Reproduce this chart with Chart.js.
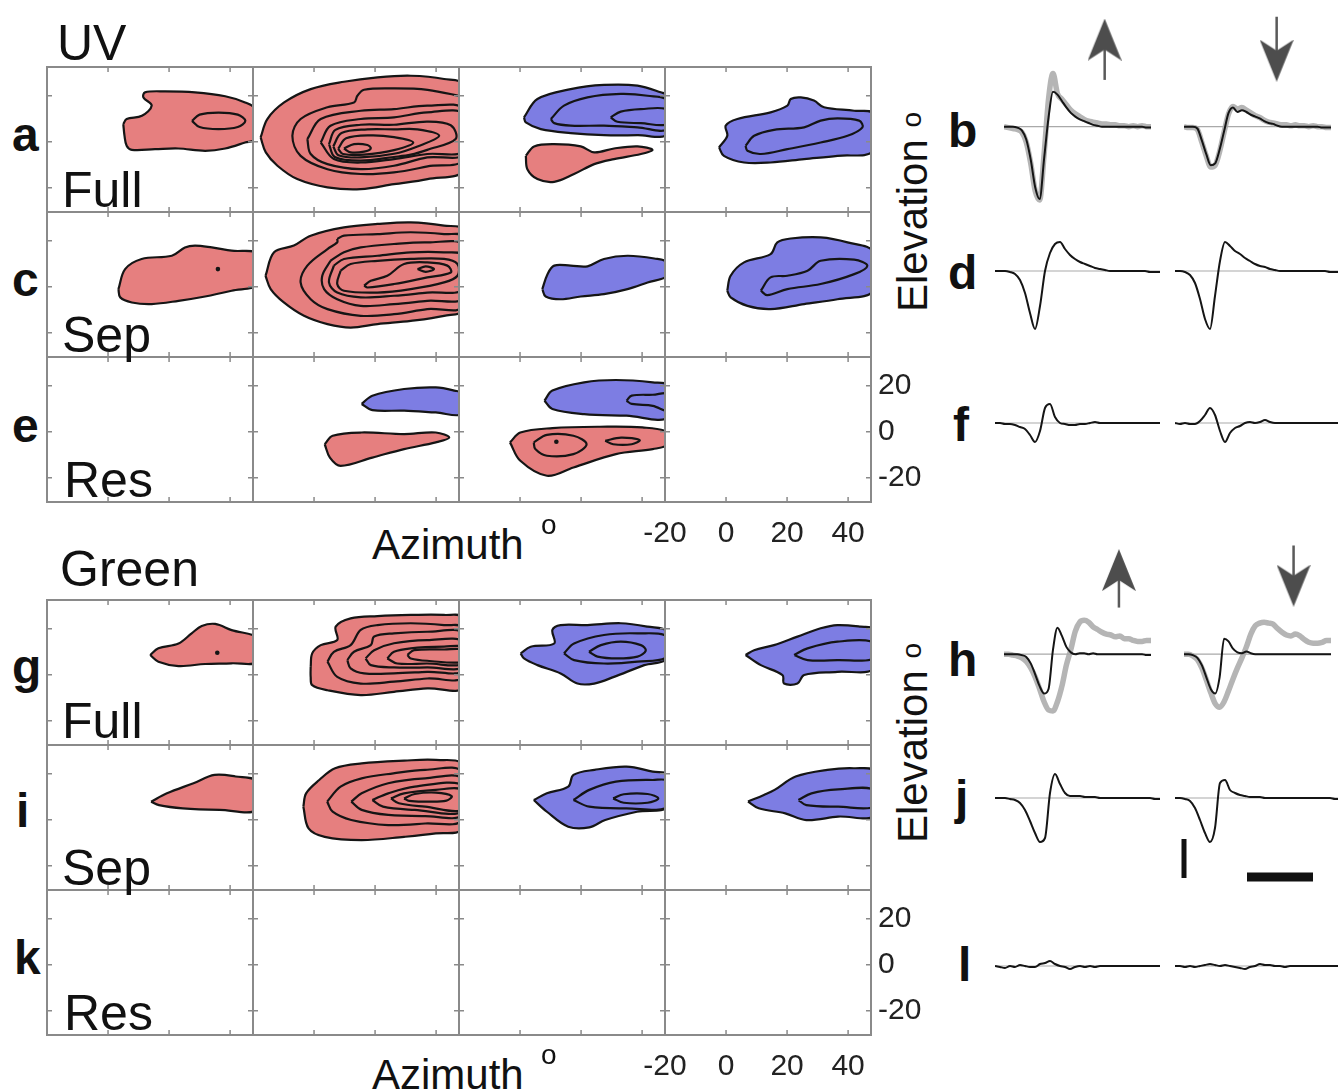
<!DOCTYPE html>
<html>
<head>
<meta charset="utf-8">
<title>UV / Green receptive fields</title>
<script src="https://cdn.jsdelivr.net/npm/chart.js@4.4.1/dist/chart.umd.min.js"></script>
<style>
  html, body { margin: 0; padding: 0; background: #fff; }
  body { position: relative; width: 1338px; height: 1092px; overflow: hidden;
         font-family: "Liberation Sans", Arial, Helvetica, sans-serif; color: #111; }
  canvas { position: absolute; }
  .t { position: absolute; line-height: 1; white-space: nowrap; }
  .big { font-size: 50px; }
  .letter { font-size: 48px; font-weight: bold; }
  .axis { font-size: 42px; }
  .deg { font-size: 28px; }
  .rot { transform: rotate(-90deg); transform-origin: 0 0; }
</style>
</head>
<body>
<script>
// ---- colours / fonts
const RED = '#e67f7f';
const BLUE = '#7d7de3';
const INK = '#151515';
const FRAME = '#8a8a8a';
const FONT = '"Liberation Sans", Arial, Helvetica, sans-serif';

// ---- axes of the receptive field maps (degrees)
const azimuthRange = [-20, 47.5];
const elevationRange = [-30.5, 32.5];
const azimuthTicks = [-20, 0, 20, 40];
const elevationTicks = [-20, 0, 20];

// ---- contour lines, [azimuth, elevation] pairs
// UV Full (a)
const a1Outer = [[5.0,7.7],[6.1,9.9],[11.1,11.3],[14.3,15.7],[11.6,19.3],[12.1,21.5],[18.7,21.9],[28.5,21.5],[38.4,19.8],[44.9,17.1],[48.2,14.2],[48.2,1.2],[44.9,-0.3],[38.4,-2.9],[31.8,-3.9],[23.0,-2.9],[15.4,-3.2],[7.8,-3.5],[6.1,-1.7],[5.4,2.6]];
const a1Inner = [[27.5,9.1],[30.0,11.8],[36.2,12.7],[42.5,11.8],[45.0,9.1],[42.5,6.4],[36.2,5.5],[30.0,6.4]];
const a2Outer = [[-17.5,1.9],[-15.3,9.9],[-9.8,17.1],[-1.1,22.9],[9.8,26.1],[20.8,28.0],[31.7,28.7],[42.6,27.3],[49.2,24.4],[49.2,-11.9],[37.2,-16.2],[26.2,-18.4],[15.3,-20.6],[4.4,-19.8],[-5.5,-16.2],[-12.0,-10.4],[-15.8,-4.6]];
const a2C2 = [[49.2,19.5],[37.2,22.6],[26.2,23.2],[16.4,22.6],[14.2,20.0],[13.1,17.1],[4.4,15.0],[-4.4,9.9],[-7.1,2.6],[-4.4,-6.1],[4.4,-11.9],[15.3,-14.0],[26.2,-13.3],[37.2,-10.7],[49.2,-7.5]];
const a2C3 = [[-2.2,1.2],[2.2,9.9],[15.3,13.5],[26.2,14.2],[37.1,15.7],[49.2,14.2],[49.2,-5.3],[37.1,-6.8],[26.2,-10.4],[15.3,-11.9],[4.4,-9.7],[-1.1,-5.3]];
const a2C4 = [[2.2,-0.3],[5.4,7.0],[15.3,9.9],[26.2,10.6],[37.1,12.8],[49.2,12.1],[49.2,-3.9],[37.1,-5.3],[26.2,-7.5],[15.3,-9.0],[6.5,-7.5]];
const a2C5 = [[4.9,-1.0],[7.0,5.2],[15.3,7.4],[26.2,7.4],[37.1,8.8],[44.8,7.2],[46.4,1.2],[37.1,-3.5],[31.7,-5.6],[26.2,-6.6],[15.3,-8.2],[6.8,-6.6]];
const a2C6 = [[6.3,-2.0],[9.0,3.8],[17.5,5.4],[26.2,5.4],[33.9,5.4],[41.0,2.6],[33.9,-2.0],[26.2,-5.2],[15.3,-6.8],[8.0,-5.8]];
const a2C7 = [[7.9,-3.0],[10.5,1.5],[18.6,2.8],[26.2,2.0],[32.5,-0.3],[26.2,-3.6],[16.4,-5.6],[9.5,-5.3]];
const a2C8 = [[9.8,-2.9],[13.1,-1.0],[17.5,-1.4],[18.6,-2.9],[16.4,-4.3],[12.0,-4.6]];
const a3Blue = [[1.3,10.6],[5.7,18.6],[16.6,22.9],[27.5,24.7],[38.5,24.4],[46.1,21.5],[48.3,20.0],[48.3,3.4],[38.5,2.9],[27.5,2.9],[16.6,3.8],[6.8,5.5],[1.9,8.4]];
const a3BlueC2 = [[10.1,9.9],[14.4,15.7],[22.1,19.3],[33.0,20.8],[41.8,20.0],[48.3,17.9],[48.3,5.5],[38.5,6.3],[27.5,7.0],[16.6,7.0],[11.2,8.1]];
const a3BlueC3 = [[29.7,10.6],[33.0,13.1],[39.6,14.2],[48.3,14.0],[48.3,7.7],[39.6,8.1],[31.9,8.7]];
const a3Red = [[1.9,-6.1],[4.6,-2.0],[11.2,-1.0],[19.9,-2.0],[24.3,-4.6],[30.8,-2.9],[38.5,-2.0],[43.4,-3.5],[39.6,-5.3],[30.8,-7.5],[24.3,-9.7],[17.7,-14.0],[11.2,-17.4],[5.7,-16.2],[2.4,-11.9]];
const a4Outer = [[-2.3,-2.4],[0.4,2.6],[-0.1,7.0],[3.7,9.9],[14.6,12.8],[20.1,15.7],[21.2,18.6],[24.5,19.3],[28.8,17.9],[32.1,15.0],[42.0,13.5],[48.5,12.1],[48.5,-3.9],[36.5,-6.1],[25.6,-7.5],[14.6,-9.0],[5.9,-9.0],[-0.7,-6.1]];
const a4Inner = [[6.4,-1.7],[9.2,2.6],[15.7,5.2],[25.6,6.3],[31.0,9.2],[36.5,10.2],[43.6,9.2],[44.7,6.3],[39.8,2.6],[31.0,-0.3],[20.1,-3.2],[11.4,-5.3],[7.0,-3.9]];
// UV Sep (c)
const c1Red = [[3.4,-1.0],[5.6,7.7],[11.0,12.1],[20.9,13.5],[25.2,17.1],[28.5,17.9],[34.0,17.1],[40.5,15.7],[49.3,14.2],[49.3,1.2],[40.5,-1.7],[31.8,-4.2],[23.1,-6.1],[14.3,-7.5],[7.8,-6.8],[4.0,-4.6]];
const c1Dot = [36.0, 7.7];
const c2Outer = [[-15.9,4.8],[-13.1,15.0],[-6.6,17.9],[-1.1,22.2],[9.8,25.8],[20.8,27.3],[31.7,28.0],[42.6,26.6],[49.2,24.4],[49.2,-9.7],[42.6,-12.6],[31.7,-14.8],[20.8,-16.2],[12.0,-17.7],[4.4,-16.2],[-3.3,-12.6],[-9.9,-6.8],[-14.2,-1.0]];
const c2C2 = [[7.6,20.8],[9.8,22.2],[20.8,22.9],[31.7,23.7],[42.6,22.9],[49.2,21.5],[49.2,-8.3],[37.1,-9.7],[26.2,-11.9],[15.3,-12.6],[4.4,-9.7],[-1.1,-5.4],[-4.4,1.9],[-2.2,9.2],[4.4,16.4],[7.6,19.3]];
const c2C3 = [[5.4,11.3],[9.8,15.0],[15.3,17.1],[26.2,18.6],[37.1,19.3],[49.2,17.9],[49.2,-4.6],[37.1,-6.1],[26.2,-7.5],[15.3,-8.3],[7.6,-5.4],[3.3,-1.0],[2.7,4.8]];
const c2C4 = [[6.5,9.2],[9.8,12.1],[20.8,13.5],[31.7,15.0],[42.6,15.0],[49.2,13.5],[49.2,-1.0],[37.1,-2.5],[26.2,-3.9],[15.3,-4.6],[7.6,-2.5],[4.9,1.9]];
const c2C5 = [[8.7,7.0],[12.0,9.9],[20.8,11.3],[31.7,12.1],[42.6,12.1],[47.0,9.9],[47.0,4.8],[42.6,1.9],[31.7,-1.0],[20.8,-2.5],[9.8,-1.7],[7.6,1.2]];
const c2C6 = [[16.4,0.5],[18.6,2.6],[24.0,4.8],[29.5,9.9],[37.1,10.6],[43.7,9.2],[44.8,6.2],[37.1,4.1],[26.2,1.2],[17.5,-0.3]];
const c2C7 = [[33.9,7.7],[36.6,8.9],[39.3,7.7],[36.6,6.5]];
const c3Blue = [[7.3,-1.0],[9.0,5.5],[11.2,9.2],[16.6,9.2],[22.1,8.9],[27.5,12.1],[35.2,13.5],[44.0,12.3],[48.3,10.6],[48.3,4.8],[41.8,1.9],[35.2,-1.0],[27.5,-3.2],[19.9,-4.2],[13.3,-5.4],[8.4,-4.2]];
const c4Outer = [[0.4,-1.7],[1.5,4.8],[5.9,10.6],[14.6,14.2],[16.8,19.3],[21.2,21.0],[31.0,21.5],[39.8,19.3],[48.5,15.0],[48.5,-1.7],[36.5,-5.4],[25.6,-7.5],[14.6,-9.7],[7.0,-8.3],[1.5,-4.6]];
const c4Inner = [[11.4,-1.7],[14.6,4.1],[20.1,4.8],[26.7,7.0],[31.0,11.3],[42.0,11.8],[46.3,9.2],[42.0,5.5],[31.0,1.2],[20.1,-1.0],[13.5,-3.6]];
// UV Res (e)
const e2Blue = [[15.6,12.1],[19.1,15.7],[29.5,18.6],[39.9,19.3],[46.0,17.9],[48.6,16.5],[48.6,7.7],[39.9,8.4],[29.5,9.2],[19.1,9.4]];
const e2Red = [[3.5,-5.4],[6.1,-1.7],[15.6,-0.3],[29.5,-1.0],[39.9,-0.3],[44.3,-2.5],[39.9,-4.6],[29.5,-7.5],[19.1,-11.2],[8.7,-14.8],[5.2,-11.2]];
const e3BlueOuter = [[8.0,13.5],[10.6,17.9],[21.0,21.5],[31.4,22.5],[43.5,21.5],[48.7,20.0],[48.7,6.2],[34.9,7.0],[21.0,7.7],[10.6,9.9]];
const e3BlueInner = [[34.9,13.5],[36.6,15.7],[43.5,16.1],[48.7,16.4],[48.7,9.2],[43.5,11.3],[36.6,12.1]];
const e3Red = [[-3.3,-4.6],[0.1,-0.3],[10.6,1.6],[26.2,2.2],[40.1,1.9],[48.7,-0.3],[48.7,-5.4],[43.5,-7.5],[31.4,-9.7],[17.5,-15.5],[8.8,-19.1],[0.1,-12.6]];
const e3RedIn1 = [[4.5,-4.6],[8.8,-1.3],[17.5,-1.7],[21.8,-5.4],[17.5,-9.7],[8.8,-10.4],[5.0,-7.5]];
const e3RedIn2 = [[27.9,-3.9],[33.1,-2.5],[39.2,-3.6],[36.6,-5.4],[30.5,-5.4]];
const e3Dot = [11.9, -4.3];
// Green Full (g)
const g1Red = [[13.8,8.6],[16.5,11.5],[23.1,13.6],[27.4,18.0],[30.7,21.2],[35.1,22.1],[40.5,19.4],[49.3,15.8],[49.3,5.7],[40.5,5.0],[31.8,4.7],[23.1,3.8],[16.5,5.7]];
const g1Dot = [35.8, 9.6];
const g2Outer = [[-1.1,3.5],[-0.6,9.3],[2.2,12.9],[7.6,15.1],[7.1,20.9],[12.0,24.5],[20.8,25.5],[31.7,26.0],[42.6,26.0],[49.2,24.5],[49.2,-5.2],[37.1,-5.9],[26.2,-7.4],[15.3,-8.8],[4.4,-6.7],[-0.6,-4.5],[-1.1,-0.9]];
const g2C2 = [[4.4,5.7],[6.5,10.0],[12.0,12.9],[15.3,19.5],[20.8,21.6],[31.7,22.4],[42.6,21.6],[49.2,20.2],[49.2,-0.9],[37.1,-1.6],[26.2,-3.0],[15.3,-3.8],[7.6,-0.9]];
const g2C3 = [[10.9,6.4],[13.1,10.0],[18.6,12.9],[19.7,16.6],[26.2,18.0],[37.1,18.7],[49.2,18.0],[49.2,2.0],[37.1,1.3],[26.2,0.6],[16.4,0.6],[12.0,2.8]];
const g2C4 = [[16.9,7.1],[19.7,10.7],[26.2,13.7],[37.1,15.1],[49.2,14.4],[49.2,3.5],[37.1,3.2],[26.2,3.2],[18.6,4.2]];
const g2C5 = [[24.0,7.1],[26.2,10.0],[31.7,11.5],[42.6,12.2],[49.2,11.9],[49.2,4.7],[37.1,4.9],[27.3,4.9]];
const g2C6 = [[30.6,8.6],[32.8,10.7],[42.6,11.0],[49.2,10.7],[49.2,5.7],[37.1,6.1],[31.7,7.1]];
const g3Outer = [[0.2,9.3],[3.5,12.2],[11.2,13.6],[10.6,19.5],[13.3,21.6],[22.1,21.6],[33.0,22.4],[41.8,20.9],[48.3,18.7],[48.3,7.1],[40.7,4.2],[30.8,-0.9],[24.3,-3.8],[18.8,-3.8],[13.3,0.6],[5.7,4.2],[1.3,7.1]];
const g3C2 = [[14.4,9.3],[17.7,13.6],[27.5,17.3],[38.5,18.0],[48.3,16.6],[48.3,7.9],[38.5,5.7],[27.5,4.9],[17.7,6.4]];
const g3C3 = [[22.6,10.0],[26.5,12.9],[33.0,14.4],[39.6,12.9],[41.2,10.5],[38.5,7.9],[31.9,7.1],[25.4,7.9]];
const g4Outer = [[6.4,8.6],[9.2,10.7],[15.7,12.9],[23.4,16.6],[31.0,20.2],[36.5,21.6],[44.1,20.9],[48.5,19.7],[48.5,2.8],[36.5,1.3],[25.6,-0.1],[23.4,-3.8],[19.0,-3.8],[18.5,-0.1],[11.4,4.2]];
const g4Inner = [[22.3,8.6],[26.7,11.5],[36.5,14.4],[48.5,14.0],[48.5,7.1],[36.5,6.4],[26.7,6.4]];
// Green Sep (i)
const i1Red = [[14.1,7.9],[19.3,11.5],[28.0,15.9],[34.9,19.5],[41.8,18.8],[48.8,16.6],[48.8,4.3],[36.6,4.3],[24.5,5.0],[16.7,6.4]];
const i2Outer = [[-3.5,5.7],[-2.6,11.5],[1.7,17.3],[6.9,22.4],[15.6,24.5],[29.5,25.7],[39.9,26.0],[48.6,23.8],[48.6,-3.7],[39.9,-5.9],[29.5,-7.4],[15.6,-8.8],[3.5,-7.4],[-1.8,-3.7]];
const i2C2 = [[4.3,7.9],[8.7,14.4],[15.6,18.0],[26.0,20.2],[36.4,21.7],[48.6,20.9],[48.6,-0.1],[36.4,-1.6],[24.3,-2.3],[12.2,-0.1],[6.1,3.5]];
const i2C3 = [[12.2,7.9],[15.6,11.5],[24.3,15.9],[36.4,18.0],[48.6,18.0],[48.6,2.1],[36.4,1.6],[24.3,2.1],[15.6,4.3]];
const i2C4 = [[19.1,8.6],[24.3,11.5],[33.0,14.4],[48.6,15.1],[48.6,3.5],[33.0,4.3],[22.6,5.7]];
const i2C5 = [[25.2,9.3],[29.5,11.5],[39.9,13.0],[48.6,13.0],[48.6,4.3],[36.4,5.7],[27.8,7.2]];
const i2C6 = [[29.5,9.3],[33.0,11.2],[39.9,11.8],[45.1,10.3],[43.4,8.3],[36.4,7.9],[31.2,8.2]];
const i3Outer = [[4.5,8.6],[8.8,11.5],[15.8,14.4],[17.5,19.5],[24.4,21.7],[34.9,23.1],[43.5,20.9],[48.7,19.5],[48.7,5.7],[38.3,3.5],[27.9,-0.1],[22.7,-3.3],[15.8,-3.0],[8.8,3.5]];
const i3C2 = [[17.5,8.6],[22.7,13.0],[31.4,16.6],[43.5,17.3],[48.7,16.6],[48.7,5.7],[34.9,5.0],[22.7,5.7]];
const i3C3 = [[30.5,9.3],[34.0,11.1],[41.8,11.2],[45.3,9.3],[41.8,7.4],[34.0,7.4]];
const i4Outer = [[7.2,7.9],[12.4,10.8],[15.9,13.0],[22.8,18.8],[33.2,21.7],[41.9,22.4],[48.9,20.9],[48.9,2.1],[36.7,1.4],[26.3,-0.1],[19.4,2.8],[10.7,5.0]];
const i4Inner = [[23.7,8.6],[28.0,11.5],[36.7,13.2],[48.9,13.0],[48.9,5.7],[36.7,5.7],[26.3,6.4]];

// ---- response traces (time samples, amplitude)
const sampleTimes = [0,5,10,15,20,25,30,35,40,45,50,55,60,65,70,75,80,85,90,95,100,105,110,115,120,125,130,135,140,145,150,155,160,165];
const bUpBlack   = [0,0,0,-1,-4,-14,-36,-66,-79,-35,10,38,35,28,21,15,11,8,6,4,2,1,0,0,0,0,0,0,0,0,0,0,-1,-1];
const bUpGrey    = [0,-1,-2,-3,-6,-17,-40,-70,-80,-30,30,58,36,30,24,18,14,11,8,6,5,4,3,3,2,2,1,1,0,1,0,1,0,0];
const bDownBlack = [0,0,0,-2,-15,-30,-42,-40,-25,-5,15,21,16,18,16,13,11,9,6,4,3,1,0,0,0,0,0,0,0,0,0,-1,-1,-1];
const bDownGrey  = [0,-1,-1,-3,-17,-32,-44,-42,-27,-6,14,22,19,21,18,15,12,10,7,5,4,3,2,2,1,2,1,1,0,1,0,0,-1,-1];
const dUp   = [0,0,0,-1,-3,-9,-22,-42,-58,-35,0,18,27,29,22,16,12,9,7,5,3,2,1,0,0,0,0,0,0,0,0,-1,-1,-1];
const dDown = [0,0,-1,-4,-12,-28,-48,-58,-25,10,29,25,20,17,13,10,7,5,4,2,1,0,0,0,0,0,0,0,0,0,0,-1,-1,-1];
const fUp   = [0,0,-1,-1,-2,-4,-6,-12,-19,-8,15,19,6,0,-1,-2,-2,-1,-1,0,1,0,0,0,0,0,0,0,0,0,0,0,0,0];
const fDown = [0,-1,0,-1,-1,2,8,15,8,-8,-19,-10,-5,-3,0,1,0,1,3,1,0,0,0,0,0,0,0,0,0,0,0,0,0,0];
const hUpBlack   = [0,0,0,0,-1,-3,-10,-22,-35,-43,-38,5,29,20,8,2,0,1,1,0,1,0,0,0,0,0,0,0,0,0,0,0,-1,-1];
const hUpGrey    = [0,0,-1,-2,-4,-8,-15,-25,-38,-52,-61,-62,-52,-35,-12,5,25,35,37,35,30,27,24,22,21,19,20,17,17,15,14,14,15,15];
const hDownBlack = [0,0,-1,-4,-12,-25,-38,-43,-25,17,14,6,2,1,3,1,0,0,0,0,0,0,0,0,0,0,0,0,0,0,0,0,0,0];
const hDownGrey  = [0,0,-2,-6,-15,-28,-42,-54,-58,-52,-40,-27,-15,-4,8,22,31,34,35,34,33,28,24,21,20,22,20,16,13,12,12,13,15,15];
const jUp   = [0,0,0,-1,-2,-5,-12,-23,-35,-44,-40,5,24,14,5,2,2,2,1,1,1,0,0,0,0,0,0,0,0,0,0,0,-1,-1];
const jDown = [0,0,-1,-3,-10,-22,-35,-44,-30,15,18,8,5,3,2,1,1,1,0,0,0,0,0,0,0,0,0,0,0,0,0,0,-1,-1];
const lUp   = [0,-1,-2,0,-1,1,0,-1,-1,2,3,5,2,0,-1,-3,-1,0,-1,0,-1,0,0,0,0,0,0,0,0,0,0,0,0,0];
const lDown = [0,0,-1,0,-1,0,1,2,1,0,1,0,-1,-2,-3,-1,0,2,1,1,0,0,-1,0,0,0,0,0,0,0,0,0,0,0];

// stimulus direction arrows (time, tip, tail) for b-up, b-down, h-up, h-down
const stimArrowTime = [113, 104, 129, 123];
const stimArrowTip  = [116, 51, 113, 54];
const stimArrowTail = [51, 120, 51, 119];
// scale bars drawn in panel j (right)
const ampBarTime = [9, 9];
const ampBarValue = [-41, -80];
const timeBarTime = [72, 138];
const timeBarValue = [-79, -79];

// ---- layout
const colLeft = [47, 253, 459, 665];
const panelW = 206, panelH = 145;
const rowTop = { a: 67, c: 212, e: 357, g: 600, i: 745, k: 890 };

const panels = {
  a: [
    [{pts: a1Outer, fill: RED}, {pts: a1Inner}],
    [{pts: a2Outer, fill: RED}, {pts: a2C2}, {pts: a2C3}, {pts: a2C4}, {pts: a2C5}, {pts: a2C6}, {pts: a2C7}, {pts: a2C8}],
    [{pts: a3Blue, fill: BLUE}, {pts: a3BlueC2}, {pts: a3BlueC3}, {pts: a3Red, fill: RED}],
    [{pts: a4Outer, fill: BLUE}, {pts: a4Inner}]
  ],
  c: [
    [{pts: c1Red, fill: RED}, {dot: c1Dot}],
    [{pts: c2Outer, fill: RED}, {pts: c2C2}, {pts: c2C3}, {pts: c2C4}, {pts: c2C5}, {pts: c2C6}, {pts: c2C7}],
    [{pts: c3Blue, fill: BLUE}],
    [{pts: c4Outer, fill: BLUE}, {pts: c4Inner}]
  ],
  e: [
    [],
    [{pts: e2Blue, fill: BLUE}, {pts: e2Red, fill: RED}],
    [{pts: e3BlueOuter, fill: BLUE}, {pts: e3BlueInner}, {pts: e3Red, fill: RED}, {pts: e3RedIn1}, {pts: e3RedIn2}, {dot: e3Dot}],
    []
  ],
  g: [
    [{pts: g1Red, fill: RED}, {dot: g1Dot}],
    [{pts: g2Outer, fill: RED}, {pts: g2C2}, {pts: g2C3}, {pts: g2C4}, {pts: g2C5}, {pts: g2C6}],
    [{pts: g3Outer, fill: BLUE}, {pts: g3C2}, {pts: g3C3}],
    [{pts: g4Outer, fill: BLUE}, {pts: g4Inner}]
  ],
  i: [
    [{pts: i1Red, fill: RED}],
    [{pts: i2Outer, fill: RED}, {pts: i2C2}, {pts: i2C3}, {pts: i2C4}, {pts: i2C5}, {pts: i2C6}],
    [{pts: i3Outer, fill: BLUE}, {pts: i3C2}, {pts: i3C3}],
    [{pts: i4Outer, fill: BLUE}, {pts: i4Inner}]
  ],
  k: [[], [], [], []]
};

// frame with inward tick marks around every map
const framePlugin = {
  id: 'panelFrame',
  afterDatasetsDraw(chart) {
    const {ctx, chartArea: a} = chart;
    const xs = chart.scales.x, ys = chart.scales.y;
    ctx.save();
    ctx.strokeStyle = FRAME;
    ctx.lineWidth = 1.5;
    ctx.beginPath();
    azimuthTicks.forEach(v => {
      const px = xs.getPixelForValue(v);
      if (px < a.left + 3 || px > a.right - 3) return;
      ctx.moveTo(px, a.top); ctx.lineTo(px, a.top + 5);
      ctx.moveTo(px, a.bottom); ctx.lineTo(px, a.bottom - 5);
    });
    elevationTicks.forEach(v => {
      const py = ys.getPixelForValue(v);
      ctx.moveTo(a.left, py); ctx.lineTo(a.left + 5, py);
      ctx.moveTo(a.right, py); ctx.lineTo(a.right - 5, py);
    });
    ctx.stroke();
    ctx.lineWidth = 2;
    ctx.strokeRect(a.left, a.top, a.right - a.left, a.bottom - a.top);
    ctx.restore();
  }
};

function shapeDataset(shape, order) {
  if (shape.dot) {
    return {
      data: [{x: shape.dot[0], y: shape.dot[1]}],
      showLine: false, pointRadius: 2.3, pointBorderWidth: 0,
      pointBackgroundColor: INK, order: order
    };
  }
  const pts = shape.pts.concat([shape.pts[0]]).map(p => ({x: p[0], y: p[1]}));
  return {
    data: pts,
    showLine: true,
    fill: shape.fill ? 'shape' : false,
    backgroundColor: shape.fill || 'rgba(0,0,0,0)',
    borderColor: INK,
    borderWidth: 2.2,
    pointRadius: 0,
    tension: 0.35,
    order: order
  };
}

function noPadding(s) {
  s.paddingLeft = 0; s.paddingRight = 0; s.paddingTop = 0; s.paddingBottom = 0;
}

function contourPanel(left, top, shapes, withAxes) {
  const extraR = withAxes ? 60 : 0, extraB = withAxes ? 50 : 0, extraL = withAxes ? 30 : 0;
  const cv = document.createElement('canvas');
  cv.width = panelW + 8 + extraR + extraL;
  cv.height = panelH + 8 + extraB;
  cv.style.left = (left - 4 - extraL) + 'px';
  cv.style.top = (top - 4) + 'px';
  document.body.appendChild(cv);
  const tickFont = {size: 30, family: FONT};
  new Chart(cv, {
    type: 'scatter',
    data: {datasets: shapes.map((s, i) => shapeDataset(s, shapes.length - i))},
    options: {
      responsive: false,
      animation: false,
      events: [],
      layout: {padding: {left: 4 + extraL, top: 4, right: 4, bottom: 4}},
      elements: {line: {capBezierPoints: false}},
      plugins: {legend: {display: false}, tooltip: {enabled: false}},
      scales: {
        x: {
          type: 'linear', min: azimuthRange[0], max: azimuthRange[1],
          display: withAxes, position: 'bottom',
          grid: {display: false, drawTicks: false}, border: {display: false},
          ticks: {color: '#222', font: tickFont, padding: 14, maxRotation: 0, autoSkip: false},
          afterBuildTicks: s => { s.ticks = azimuthTicks.map(v => ({value: v})); },
          afterFit: s => { s.height = extraB; noPadding(s); }
        },
        y: {
          type: 'linear', min: elevationRange[0], max: elevationRange[1],
          display: withAxes, position: 'right',
          grid: {display: false, drawTicks: false}, border: {display: false},
          ticks: {color: '#222', font: tickFont, padding: 7, autoSkip: false},
          afterBuildTicks: s => { s.ticks = elevationTicks.map(v => ({value: v})); },
          afterFit: s => { s.width = extraR; noPadding(s); }
        }
      }
    },
    plugins: [framePlugin]
  });
}

Object.keys(panels).forEach(row => {
  panels[row].forEach((shapes, col) => {
    const labelled = (row === 'e' || row === 'k') && col === 3;
    contourPanel(colLeft[col], rowTop[row], shapes, labelled);
  });
});

// ---- traces
const traceLeftX = 995, traceRightX = 1175, traceW = 165;

function arrowHead(up) {
  const c = document.createElement('canvas');
  c.width = 34; c.height = 42;
  const g = c.getContext('2d');
  g.fillStyle = '#4d4d4d';
  g.beginPath();
  if (up) { g.moveTo(17, 0); g.lineTo(34, 42); g.lineTo(17, 31); g.lineTo(0, 42); }
  else { g.moveTo(17, 42); g.lineTo(34, 0); g.lineTo(17, 11); g.lineTo(0, 0); }
  g.closePath();
  g.fill();
  return c;
}

function series(vals, color, width) {
  return {
    data: sampleTimes.map((t, i) => ({x: t, y: vals[i]})),
    showLine: true, borderColor: color, borderWidth: width,
    pointRadius: 0, cubicInterpolationMode: 'monotone', fill: false
  };
}
function zeroLine() {
  return {
    data: [{x: sampleTimes[0], y: 0}, {x: sampleTimes[sampleTimes.length - 1], y: 0}],
    showLine: true, borderColor: '#a9a9a9', borderWidth: 1.2, pointRadius: 0
  };
}
function arrow(k) {
  const t = stimArrowTime[k], tip = stimArrowTip[k], tail = stimArrowTail[k];
  const up = tip > tail;
  const centre = up ? tip - 21 : tip + 21;
  const neck = up ? tip - 30 : tip + 30;
  return [
    {data: [{x: t, y: centre}], showLine: false, pointStyle: arrowHead(up), pointRadius: 12},
    {data: [{x: t, y: tail}, {x: t, y: neck}], showLine: true, borderColor: '#5a5a5a', borderWidth: 2.5, pointRadius: 0}
  ];
}
function bar(times, values, width) {
  return {
    data: times.map((t, i) => ({x: t, y: values[i]})),
    showLine: true, borderColor: '#111', borderWidth: width, borderCapStyle: 'butt', pointRadius: 0
  };
}

function tracePanel(x, top, bottom, base, layers) {
  const cv = document.createElement('canvas');
  cv.width = traceW + 8;
  cv.height = bottom - top + 8;
  cv.style.left = (x - 4) + 'px';
  cv.style.top = (top - 4) + 'px';
  document.body.appendChild(cv);
  new Chart(cv, {
    type: 'scatter',
    data: {datasets: layers},
    options: {
      responsive: false, animation: false, events: [],
      layout: {padding: 4},
      plugins: {legend: {display: false}, tooltip: {enabled: false}},
      scales: {
        x: {type: 'linear', display: false, min: sampleTimes[0], max: sampleTimes[sampleTimes.length - 1]},
        y: {type: 'linear', display: false, min: base - bottom, max: base - top}
      }
    }
  });
}

// b
tracePanel(traceLeftX, 4, 220, 128, [series(bUpBlack, INK, 2), zeroLine(), series(bUpGrey, '#b5b5b5', 5.5), ...arrow(0)]);
tracePanel(traceRightX, 4, 220, 128, [series(bDownBlack, INK, 2), zeroLine(), series(bDownGrey, '#b5b5b5', 5.5), ...arrow(1)]);
// d
tracePanel(traceLeftX, 230, 360, 271, [series(dUp, INK, 2), zeroLine()]);
tracePanel(traceRightX, 230, 360, 271, [series(dDown, INK, 2), zeroLine()]);
// f
tracePanel(traceLeftX, 390, 470, 423, [series(fUp, INK, 2), zeroLine()]);
tracePanel(traceRightX, 390, 470, 423, [series(fDown, INK, 2), zeroLine()]);
// h
tracePanel(traceLeftX, 530, 740, 656, [series(hUpBlack, INK, 2), zeroLine(), series(hUpGrey, '#b5b5b5', 5.5), ...arrow(2)]);
tracePanel(traceRightX, 530, 740, 656, [series(hDownBlack, INK, 2), zeroLine(), series(hDownGrey, '#b5b5b5', 5.5), ...arrow(3)]);
// j
tracePanel(traceLeftX, 760, 890, 798, [series(jUp, INK, 2), zeroLine()]);
tracePanel(traceRightX, 760, 890, 798, [series(jDown, INK, 2), zeroLine(), bar(ampBarTime, ampBarValue, 5), bar(timeBarTime, timeBarValue, 9)]);
// l
tracePanel(traceLeftX, 940, 995, 966, [series(lUp, INK, 2), zeroLine()]);
tracePanel(traceRightX, 940, 995, 966, [series(lDown, INK, 2), zeroLine()]);
</script>

<!-- text -->
<div class="t big" style="left:57px;top:18px">UV</div>
<div class="t big" style="left:60px;top:544px">Green</div>

<div class="t letter" style="left:12px;top:111px">a</div>
<div class="t letter" style="left:12px;top:256px">c</div>
<div class="t letter" style="left:12px;top:402px">e</div>
<div class="t letter" style="left:12px;top:643px">g</div>
<div class="t letter" style="left:16px;top:787px">i</div>
<div class="t letter" style="left:14px;top:934px">k</div>

<div class="t letter" style="left:948px;top:107px">b</div>
<div class="t letter" style="left:948px;top:249px">d</div>
<div class="t letter" style="left:953px;top:401px">f</div>
<div class="t letter" style="left:948px;top:636px">h</div>
<div class="t letter" style="left:955px;top:774px">j</div>
<div class="t letter" style="left:958px;top:941px">l</div>

<div class="t big" style="left:62px;top:165px">Full</div>
<div class="t big" style="left:62px;top:310px">Sep</div>
<div class="t big" style="left:64px;top:455px">Res</div>
<div class="t big" style="left:62px;top:696px">Full</div>
<div class="t big" style="left:62px;top:843px">Sep</div>
<div class="t big" style="left:64px;top:988px">Res</div>

<div class="t axis" style="left:372px;top:524px">Azimuth</div>
<div class="t deg" style="left:541px;top:511px">o</div>
<div class="t axis" style="left:372px;top:1054px">Azimuth</div>
<div class="t deg" style="left:541px;top:1041px">o</div>

<div class="t axis rot" style="left:892px;top:312px">Elevation <span class="deg" style="position:relative;top:-6px">o</span></div>
<div class="t axis rot" style="left:892px;top:843px">Elevation <span class="deg" style="position:relative;top:-6px">o</span></div>
</body>
